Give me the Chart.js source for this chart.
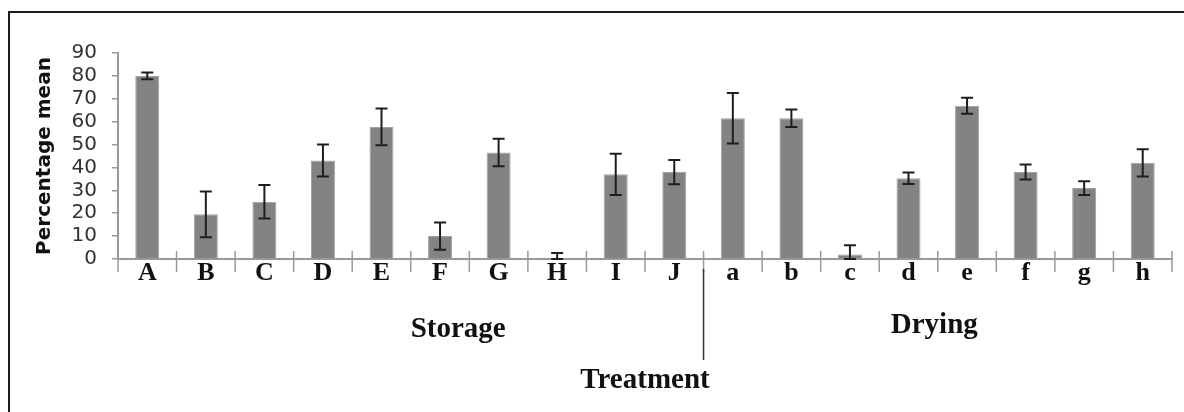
<!DOCTYPE html>
<html>
<head>
<meta charset="utf-8">
<script src="https://cdn.jsdelivr.net/npm/chart.js@4.4.1/dist/chart.umd.min.js"></script>
<style>
    html, body { margin: 0; padding: 0; background: #fff; }
    canvas { display: block; }
</style>
</head>
<body>
<canvas id="meanChart" width="1184" height="412"></canvas>
<script>
// Data
const treatments = ['A', 'B', 'C', 'D', 'E', 'F', 'G', 'H', 'I', 'J', 'a', 'b', 'c', 'd', 'e', 'f', 'g', 'h'];
const meanValues = [80, 19.5, 25, 43, 57.7, 10, 46.5, 0.3, 37, 38, 61.5, 61.5, 2, 35.3, 67, 38, 31, 42];
const errorValues = [1.5, 10, 7.3, 7, 8, 6, 6, 2.3, 9, 5.3, 11, 3.8, 4, 2.5, 3.5, 3.3, 3, 6];
const yTicks = [0, 10, 20, 30, 40, 50, 60, 70, 80, 90];
const groupNames = ['Storage', 'Drying'];

// Frame (top + left edge of the figure box)
const framePlugin = {
    id: 'frame',
    beforeDraw(chart) {
        const ctx = chart.ctx;
        ctx.save();
        ctx.strokeStyle = '#1a1a1a';
        ctx.lineWidth = 2;
        ctx.beginPath();
        ctx.moveTo(9, chart.height);
        ctx.lineTo(9, 12);
        ctx.lineTo(chart.width, 12);
        ctx.stroke();
        ctx.restore();
    }
};

// Error bars
const errorBarPlugin = {
    id: 'errorBars',
    afterDatasetsDraw(chart) {
        const ctx = chart.ctx;
        const y = chart.scales.y;
        const meta = chart.getDatasetMeta(0);
        ctx.save();
        ctx.strokeStyle = '#1e1e1e';
        ctx.lineWidth = 2;
        meta.data.forEach((bar, i) => {
            const v = meanValues[i];
            const e = errorValues[i];
            const top = y.getPixelForValue(v + e);
            const bot = y.getPixelForValue(Math.max(v - e, 0));
            const cap = 6;
            ctx.beginPath();
            ctx.moveTo(bar.x, top);
            ctx.lineTo(bar.x, bot);
            ctx.moveTo(bar.x - cap, top);
            ctx.lineTo(bar.x + cap, top);
            ctx.moveTo(bar.x - cap, bot);
            ctx.lineTo(bar.x + cap, bot);
            ctx.stroke();
        });
        ctx.restore();
    }
};

// Category tick marks crossing the x axis, group labels and separator
const groupPlugin = {
    id: 'groups',
    afterDraw(chart) {
        const ctx = chart.ctx;
        const xs = chart.scales.x;
        const n = treatments.length;
        ctx.save();
        ctx.strokeStyle = '#9a9a9a';
        ctx.lineWidth = 1.5;
        for (let i = 0; i <= n; i++) {
            const px = xs.left + i * xs.width / n;
            ctx.beginPath();
            ctx.moveTo(px, xs.top - 8);
            ctx.lineTo(px, xs.top + 13);
            ctx.stroke();
        }

        // separator between storage and drying
        const sep = xs.getPixelForValue(9.5);
        ctx.strokeStyle = '#333';
        ctx.lineWidth = 1.5;
        ctx.beginPath();
        ctx.moveTo(sep, xs.top + 10);
        ctx.lineTo(sep, xs.top + 101);
        ctx.stroke();

        ctx.fillStyle = '#111';
        ctx.font = 'bold 29px "Liberation Serif"';
        ctx.textAlign = 'center';
        ctx.textBaseline = 'alphabetic';
        ctx.fillText(groupNames[0], xs.getPixelForValue(5.31), xs.top + 78);
        ctx.fillText(groupNames[1], xs.getPixelForValue(13.44), xs.top + 74);
        ctx.restore();
    }
};

const ctx = document.getElementById('meanChart').getContext('2d');
new Chart(ctx, {
    type: 'bar',
    data: {
        labels: treatments,
        datasets: [{
            label: 'Percentage mean',
            data: meanValues,
            backgroundColor: '#838383',
            borderColor: '#a2a2a2',
            borderWidth: 1,
            barPercentage: 0.41,
            categoryPercentage: 1
        }]
    },
    options: {
        responsive: false,
        animation: false,
        devicePixelRatio: 1,
        layout: {
            padding: { left: 30, right: 12, top: 53, bottom: 0 }
        },
        plugins: {
            legend: { display: false },
            tooltip: { enabled: false }
        },
        scales: {
            y: {
                min: 0,
                max: 90,
                afterBuildTicks: scale => {
                    scale.ticks = yTicks.map(v => ({ value: v }));
                },
                afterFit: scale => {
                    scale.width = 88;
                },
                border: { display: true, color: '#999', width: 2 },
                grid: {
                    drawOnChartArea: false,
                    tickLength: 6,
                    color: '#999',
                    lineWidth: 1.5
                },
                ticks: {
                    autoSkip: false,
                    padding: 15,
                    color: '#333',
                    font: { family: '"DejaVu Sans"', size: 20 }
                },
                title: {
                    display: true,
                    text: 'Percentage mean',
                    color: '#111',
                    padding: { top: 3, bottom: 0 },
                    font: { family: '"DejaVu Sans"', size: 20, weight: 'bold' }
                }
            },
            x: {
                afterFit: scale => {
                    scale.height = 153;
                },
                border: { display: true, color: '#999', width: 2 },
                grid: {
                    drawOnChartArea: false,
                    drawTicks: false
                },
                ticks: {
                    autoSkip: false,
                    padding: -1,
                    color: '#111',
                    font: { family: '"Liberation Serif"', size: 26, weight: 'bold' }
                },
                title: {
                    display: true,
                    text: 'Treatment',
                    color: '#111',
                    padding: { top: 0, bottom: 14 },
                    font: { family: '"Liberation Serif"', size: 29, weight: 'bold' }
                }
            }
        }
    },
    plugins: [framePlugin, errorBarPlugin, groupPlugin]
});
</script>
</body>
</html>
